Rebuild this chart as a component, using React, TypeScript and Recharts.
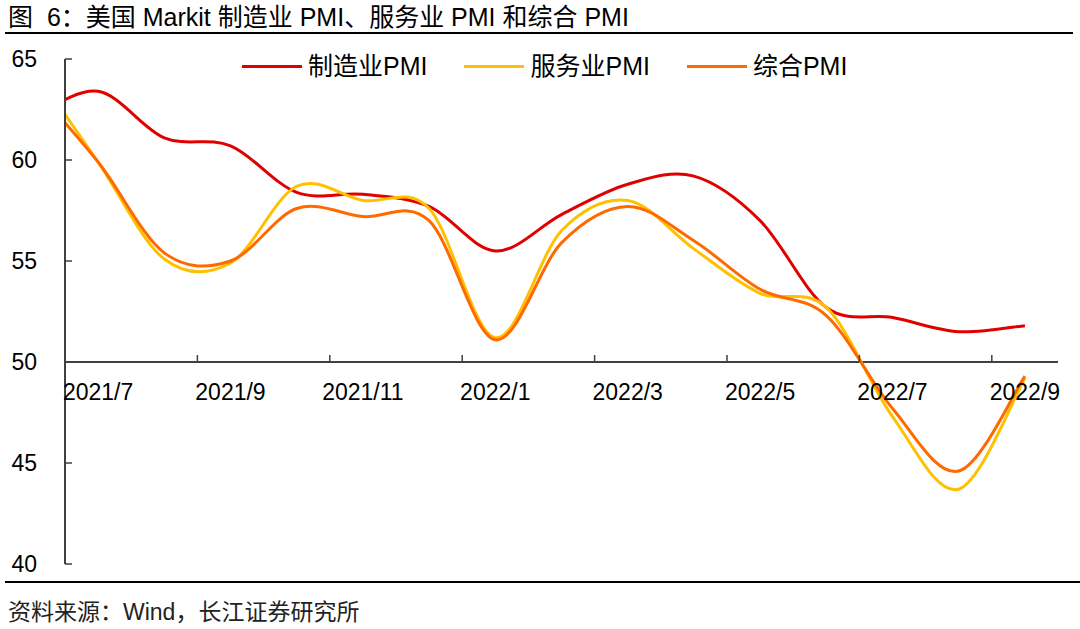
import React from 'react';
import { LineChart, Line, XAxis, YAxis, ReferenceLine, Legend } from 'recharts';

// ---------- data ----------
const months = [
  '2021/6', '2021/7', '2021/8', '2021/9', '2021/10', '2021/11', '2021/12',
  '2022/1', '2022/2', '2022/3', '2022/4', '2022/5', '2022/6', '2022/7', '2022/8', '2022/9',
];
const manufacturing = [62.1, 63.4, 61.1, 60.7, 58.4, 58.3, 57.7, 55.5, 57.3, 58.8, 59.2, 57.0, 52.7, 52.2, 51.5, 51.8];
const services = [64.6, 59.9, 55.1, 54.9, 58.7, 58.0, 57.6, 51.2, 56.5, 58.0, 55.6, 53.4, 52.7, 47.3, 43.7, 49.2];
const composite = [63.7, 59.9, 55.4, 55.0, 57.6, 57.2, 57.0, 51.1, 55.9, 57.7, 56.0, 53.6, 52.3, 47.7, 44.6, 49.3];
const xTickLabels = ['2021/7', '2021/9', '2021/11', '2022/1', '2022/3', '2022/5', '2022/7', '2022/9'];
const yTicks = [40, 45, 50, 55, 60, 65];
const seriesNames = ['制造业PMI', '服务业PMI', '综合PMI'];

// ---------- layout ----------
const W = 1080;
const H = 629;
const PLOT_LEFT = 65;
const PLOT_RIGHT = 1058;
const PLOT_TOP = 59;
const PLOT_BOTTOM = 564;
const X_AXIS_H = 1;
const PLOT_W = PLOT_RIGHT - PLOT_LEFT;
const PLOT_H = PLOT_BOTTOM - PLOT_TOP;
const X_MIN = 0;
const X_MAX = 15;
const Y_MIN = 40;
const Y_MAX = 65;
const X_AXIS_AT = 50;
const Y_AT_AXIS = PLOT_TOP + (PLOT_H * (Y_MAX - X_AXIS_AT)) / (Y_MAX - Y_MIN);
const HALF_MONTH = PLOT_W / (X_MAX - X_MIN) / 2;

const FONT = '"Liberation Sans", Arial, "Noto Sans CJK SC", sans-serif';
const AXIS_COLOR = '#404040';
const RED = '#E00000';
const YELLOW = '#FFC000';
const ORANGE = '#FF6A00';

// month band centre: 2021/7 band spans [0,1], so 2021/6 centre is -0.5
const data = months.map((m, i) => ({
  month: m,
  x: i - 0.5,
  mfg: manufacturing[i],
  svc: services[i],
  comp: composite[i],
}));
const xTicks = xTickLabels.map((_, k) => 2 * k);

// Excel-like smoothing (uniform Catmull-Rom as cubic Beziers)
function excelCurve(context: any) {
  let pts: number[][] = [];
  return {
    areaStart() {},
    areaEnd() {},
    lineStart() {
      pts = [];
    },
    point(x: number, y: number) {
      pts.push([+x, +y]);
    },
    lineEnd() {
      const n = pts.length;
      if (!n) return;
      context.moveTo(pts[0][0], pts[0][1]);
      for (let i = 0; i < n - 1; i++) {
        const p0 = pts[i - 1] || pts[i];
        const p1 = pts[i];
        const p2 = pts[i + 1];
        const p3 = pts[i + 2] || p2;
        context.bezierCurveTo(
          p1[0] + (p2[0] - p0[0]) / 6,
          p1[1] + (p2[1] - p0[1]) / 6,
          p2[0] - (p3[0] - p1[0]) / 6,
          p2[1] - (p3[1] - p1[1]) / 6,
          p2[0],
          p2[1],
        );
      }
    },
  };
}

const XTick = (props: any) => {
  const { x, payload } = props;
  const idx = xTicks.indexOf(payload.value);
  return (
    <g>
      <line x1={x} x2={x} y1={Y_AT_AXIS} y2={Y_AT_AXIS - 7} stroke={AXIS_COLOR} strokeWidth={1.5} />
      <text
        x={x + HALF_MONTH}
        y={Y_AT_AXIS + 30}
        dy="0.35em"
        textAnchor="middle"
        fontFamily={FONT}
        fontSize={23}
        fill="#000"
      >
        {xTickLabels[idx]}
      </text>
    </g>
  );
};

const YTick = (props: any) => {
  const { x, y, payload } = props;
  return (
    <g>
      <line x1={x} x2={x + 7} y1={y} y2={y} stroke={AXIS_COLOR} strokeWidth={1.5} />
      <text x={x - 28} y={y} dy="0.35em" textAnchor="end" fontFamily={FONT} fontSize={23} fill="#000">
        {payload.value}
      </text>
    </g>
  );
};

const renderLegend = (props: any) => {
  const { payload } = props;
  return (
    <div
      style={{
        display: 'flex',
        alignItems: 'center',
        fontFamily: FONT,
        fontSize: 25,
        lineHeight: '30px',
        color: '#000',
        whiteSpace: 'nowrap',
      }}
    >
      {(payload || []).map((p: any, i: number) => (
        <div key={i} style={{ display: 'flex', alignItems: 'center', marginRight: 37 }}>
          <div style={{ width: 60, height: 3, background: p.color, marginRight: 6 }} />
          <span>{p.value}</span>
        </div>
      ))}
    </div>
  );
};

export default function App() {
  return (
    <div style={{ position: 'absolute', left: 0, top: 0, width: W, height: H, background: '#fff', overflow: 'hidden' }}>
      <div
        style={{
          position: 'absolute',
          left: 8,
          top: 2,
          fontFamily: FONT,
          fontSize: 25,
          lineHeight: '30px',
          color: '#000',
          whiteSpace: 'pre',
        }}
      >
        {'图  6：美国 Markit 制造业 PMI、服务业 PMI 和综合 PMI'}
      </div>
      <div style={{ position: 'absolute', left: 5, top: 32, width: 1068, height: 2, background: '#000' }} />

      <div style={{ position: 'absolute', left: 0, top: 0 }}>
        <LineChart
          width={W}
          height={H}
          data={data}
          margin={{ top: PLOT_TOP, right: W - PLOT_RIGHT, bottom: H - PLOT_BOTTOM - X_AXIS_H, left: 0 }}
        >
          <XAxis
            dataKey="x"
            type="number"
            domain={[X_MIN, X_MAX]}
            allowDataOverflow
            ticks={xTicks}
            interval={0}
            height={X_AXIS_H}
            axisLine={false}
            tickLine={false}
            tickSize={0}
            tickMargin={0}
            tick={<XTick />}
          />
          <YAxis
            type="number"
            domain={[Y_MIN, Y_MAX]}
            ticks={yTicks}
            interval={0}
            width={PLOT_LEFT}
            axisLine={{ stroke: AXIS_COLOR, strokeWidth: 2 }}
            tickLine={false}
            tickSize={0}
            tickMargin={0}
            tick={<YTick />}
          />
          <ReferenceLine y={X_AXIS_AT} stroke={AXIS_COLOR} strokeWidth={2} />
          <Legend
            verticalAlign="middle"
            align="center"
            layout="horizontal"
            wrapperStyle={{ top: 51, left: 242, width: 'auto', height: 'auto' }}
            content={renderLegend}
          />
          <Line
            dataKey="mfg"
            name={seriesNames[0]}
            stroke={RED}
            strokeWidth={3}
            dot={false}
            activeDot={false}
            type={excelCurve as any}
            isAnimationActive={false}
          />
          <Line
            dataKey="svc"
            name={seriesNames[1]}
            stroke={YELLOW}
            strokeWidth={3}
            dot={false}
            activeDot={false}
            type={excelCurve as any}
            isAnimationActive={false}
          />
          <Line
            dataKey="comp"
            name={seriesNames[2]}
            stroke={ORANGE}
            strokeWidth={3}
            dot={false}
            activeDot={false}
            type={excelCurve as any}
            isAnimationActive={false}
          />
        </LineChart>
      </div>

      <div style={{ position: 'absolute', left: 5, top: 581, width: 1075, height: 2, background: '#000' }} />
      <div
        style={{
          position: 'absolute',
          left: 8,
          top: 598,
          fontFamily: FONT,
          fontSize: 23,
          lineHeight: '28px',
          color: '#222',
          whiteSpace: 'nowrap',
        }}
      >
        资料来源：Wind，长江证券研究所
      </div>
    </div>
  );
}
